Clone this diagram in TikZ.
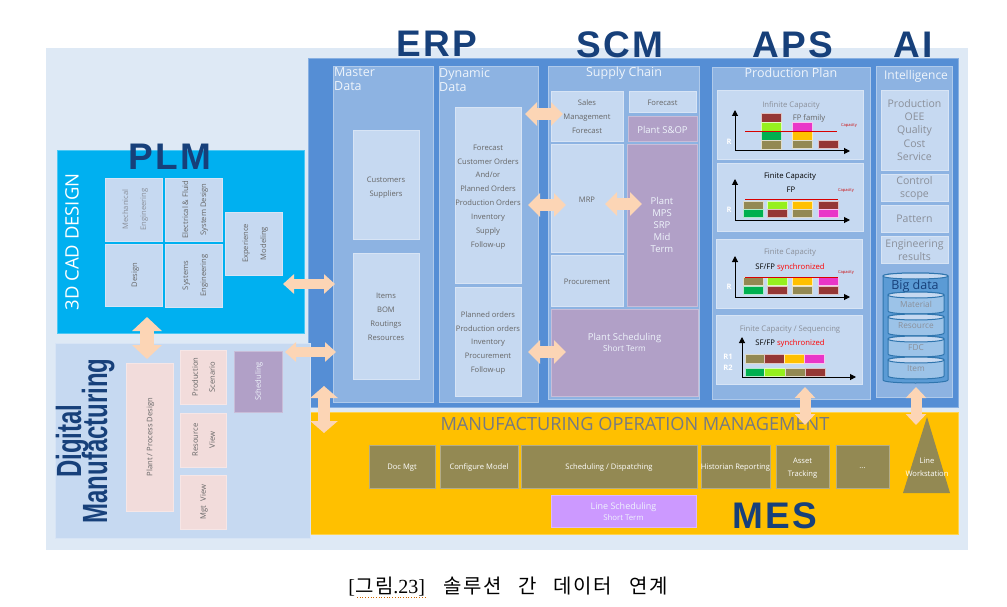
\documentclass[tikz,border=0pt]{standalone}
\usepackage{fontspec}
\usepackage{graphicx}
\usetikzlibrary{arrows.meta}
\setmainfont{Open Sans}
\newfontfamily\headfont[LetterSpace=7]{Liberation Sans}
\newfontfamily\dmfont{Liberation Sans}
\newfontfamily\krfont[LetterSpace=8]{Noto Sans CJK KR}
\newfontfamily\capserif{Liberation Serif}
\definecolor{bgpale}{HTML}{DEE9F5}
\definecolor{panelblue}{HTML}{558ED5}
\definecolor{midblue}{HTML}{8DB3E2}
\definecolor{paleblue}{HTML}{C6D9F1}
\definecolor{cyanblue}{HTML}{00B0F0}
\definecolor{purplebox}{HTML}{B1A0C7}
\definecolor{pinkbox}{HTML}{F2DCDB}
\definecolor{mesyellow}{HTML}{FFC000}
\definecolor{olivebox}{HTML}{938953}
\definecolor{lilac}{HTML}{CC99FF}
\definecolor{peach}{HTML}{FCD5B5}
\definecolor{headblue}{HTML}{17407A}
\definecolor{darkred}{HTML}{953735}
\definecolor{limeg}{HTML}{96F01E}
\definecolor{greenb}{HTML}{00B050}
\definecolor{magentab}{HTML}{E936C8}
\definecolor{greytext}{HTML}{666666}
\definecolor{softgrey}{HTML}{8A8F99}
\definecolor{whitetext}{HTML}{EEF4FB}
\definecolor{drumedge}{HTML}{2F75AE}
\definecolor{drumfill}{HTML}{5B9BD5}
\definecolor{drumin}{HTML}{9CC3E8}
\def\tsh{0}
\tikzset{
  ts/.code={\gdef\tsh{#1}},
  box/.style={draw=#1!70!white,fill=#1,line width=.5pt,inner sep=0pt,outer sep=0pt,align=center},
  box/.default=paleblue,
  listtext/.style={text=greytext,font=\fontsize{7.6}{13.9}\selectfont},
  whtext/.style={text=whitetext},
  panelhead/.style={text=whitetext,inner sep=0pt,align=left,font=\fontsize{12.5}{14}\selectfont},
  headline/.style={text=headblue,inner sep=0pt,font=\headfont\bfseries\fontsize{37}{37}\selectfont},
  introw/.style={text=softgrey,font=\fontsize{10.5}{13.3}\selectfont},
  fat/.style n args={3}{draw=peach,line width=#1pt,arrows={Triangle[length=#2pt,width=#3pt]-Triangle[length=#2pt,width=#3pt]}},
  axisline/.style={draw=black,line width=1pt,arrows={Triangle[length=6pt,width=6pt]-Triangle[length=6pt,width=6pt]}},
  chtitle/.style={inner sep=0pt,font=\fontsize{7.7}{9}\selectfont},
  captext/.style={text=red!80!black,inner sep=0pt,font=\fontsize{4}{5}\selectfont},
  rlabel/.style={text=white,inner sep=0pt,font=\bfseries\fontsize{7.5}{9}\selectfont},
  caplimit/.style={draw=red!85!black,line width=.8pt},
  dmtext/.style={inner sep=0pt,rotate=90,anchor=base,text=headblue,font=\dmfont\bfseries\fontsize{35}{35}\selectfont},
}
% panel without text
\newcommand{\pn}[6][]{%
  \pgfmathsetmacro\cxx{(#3+#5)/2}\pgfmathsetmacro\cyy{(#4+#6)/2}%
  \pgfmathsetmacro\wwd{#5-#3}\pgfmathsetmacro\hhd{#6-#4}%
  \node[box,#1,minimum width=\wwd pt,minimum height=\hhd pt] (#2) at (\cxx,\cyy) {};}
% box with its text, which may sit ts=... below the centre
\newcommand{\bx}[7][]{%
  \pn[#1]{#2}{#3}{#4}{#5}{#6}%
  \pgfmathsetmacro\cyt{\cyy+\tsh}%
  \node[box,#1,draw=none,fill=none] (#2t) at (\cxx,\cyt) {#7};%
  \gdef\tsh{0}}
\newcommand{\rot}[2][18]{\rotatebox{90}{\fontsize{7.6}{#1}\selectfont\begin{tabular}{@{}c@{}}#2\end{tabular}}}
\newcommand{\chbar}[5]{\fill[#1,draw=white!70!#1,line width=.3pt] (#2,#3) rectangle (#4,#5);}
\newcommand{\chaxes}[5]{%
  \coordinate (#1top) at (#2,#3);\coordinate (#1org) at (#2,#4);\coordinate (#1end) at (#5,#4);
  \draw[axisline] (#1top) -- (#1org) -- (#1end);}
\newcommand{\drum}[8]{% name x1 y1 x2 y2 edge fill text
  \pgfmathsetmacro\cxx{(#2+#4)/2}%
  \pgfmathsetmacro\ytop{#3+3}\pgfmathsetmacro\ybot{#5-3}\pgfmathsetmacro\cyy{(#3+#5)/2+1}%
  \draw[draw=#6,fill=#7,line width=1pt] (#2,\ytop) -- (#2,\ybot) .. controls (#2,#5+1) and (#4,#5+1) .. (#4,\ybot) -- (#4,\ytop) .. controls (#4,#3-1) and (#2,#3-1) .. (#2,\ytop) -- cycle;
  \draw[draw=#6,line width=1pt,fill=paleblue] (#2,\ytop) .. controls (#2,#3-1) and (#4,#3-1) .. (#4,\ytop) .. controls (#4,#3+7) and (#2,#3+7) .. (#2,\ytop) -- cycle;
  \node[introw,inner sep=0pt,font=\fontsize{8.3}{10}\selectfont] (#1) at (\cxx,\cyy) {#8};}
\begin{document}
\begin{tikzpicture}[x=1pt,y=-1pt]
\useasboundingbox (0,0) rectangle (1007,607);
\fill[bgpale] (46,48) rectangle (968,550);

% main panels
\pn[box=panelblue]{erpscm}{308}{58}{958}{407}
\pn[box=midblue]{master}{333}{66}{433}{402}
\pn[box=midblue]{dynamic}{439}{66}{538}{402}
\pn[box=midblue]{supply}{548}{66}{699}{399}
\pn[box=midblue]{prodplan}{712}{67}{870}{399}
\pn[box=midblue]{intel}{876}{66}{952}{397}

\node[panelhead,anchor=north west] (masterh) at (334,67) {Master\\Data};
\node[panelhead,anchor=north west] (dynh) at (439,68) {Dynamic\\Data};
\node[panelhead] (supplyh) at (624,73) {Supply Chain};
\node[panelhead] (planh) at (791,73) {Production Plan};
\node[panelhead,font=\fontsize{12}{14}\selectfont] (intelh) at (916,76) {Intelligence};

% ERP boxes
\bx[listtext,ts=3]{customers}{353}{130}{419}{239}{Customers\\Suppliers}
\bx[listtext,ts=1]{items}{353}{253}{419}{379}{Items\\BOM\\Routings\\Resources}
\bx[listtext,ts=2]{dynone}{455}{107}{521}{283}{Forecast\\Customer Orders\\And/or\\Planned Orders\\Production Orders\\Inventory\\Supply\\Follow-up}
\bx[listtext,ts=1.5]{dyntwo}{455}{287}{521}{396}{Planned orders\\Production orders\\Inventory\\Procurement\\Follow-up}

% SCM boxes
\bx[listtext,ts=1]{sales}{551}{91}{623}{141}{Sales\\Management\\Forecast}
\bx[listtext,ts=1]{forecast}{629}{91}{696}{112}{Forecast}
\bx[box=purplebox,whtext,ts=1,font=\fontsize{9.5}{12}\selectfont]{sop}{628}{116}{697}{141}{Plant S\&OP}
\bx[listtext,ts=2]{mrp}{551}{144}{623}{252}{MRP}
\bx[box=purplebox,whtext,font=\fontsize{9.5}{12.2}\selectfont]{mps}{627}{144}{697}{306}{Plant\\MPS\\SRP\\Mid\\Term}
\bx[listtext,ts=1]{procure}{551}{255}{623}{306}{Procurement}
\bx[box=purplebox,whtext,ts=-10,font=\fontsize{9.5}{11}\selectfont]{plantsched}{551}{309}{698}{396}{Plant Scheduling\\{\fontsize{8.3}{11}\selectfont Short Term}}

% Intelligence
\bx[introw]{kpi}{881}{90}{948}{170}{Production\\OEE\\Quality\\Cost\\Service}
\bx[introw,ts=.5]{control}{881}{174}{948}{201}{Control\\scope}
\bx[introw,ts=.5]{pattern}{881}{205}{948}{232}{Pattern}
\bx[introw,ts=.5]{engres}{881}{236}{948}{263}{Engineering\\results}
\drum{bigdrum}{883}{273}{948}{383}{drumedge}{drumfill}{}
\node[inner sep=0pt,text=headblue,font=\fontsize{12.5}{14}\selectfont] (bigdata) at (915,286) {Big data};
\drum{material}{888}{292}{944}{314}{drumedge}{drumin}{Material}
\drum{resource}{888}{314}{944}{336}{drumedge}{drumin}{Resource}
\drum{fdc}{888}{336}{944}{357}{drumedge}{drumin}{FDC}
\drum{itemdrum}{888}{357}{944}{379}{drumedge}{drumin}{Item}

% Chart panels
\pn{chartone}{717}{90}{863}{159}
\pn{charttwo}{717}{163}{863}{231}
\pn{chartthree}{716}{239}{862}{308}
\pn{chartfour}{716}{315}{862}{384}

% chart 1
\node[chtitle,text=softgrey] (t1) at (791,105) {Infinite Capacity};
\chbar{darkred}{761}{113}{781}{122}\chbar{limeg}{761}{122}{781}{131}\chbar{greenb}{761}{131}{781}{140}\chbar{olivebox}{761}{140}{781}{149}
\chbar{magentab}{792}{122}{812}{131}\chbar{mesyellow}{792}{131}{812}{140}\chbar{olivebox}{792}{140}{812}{148}
\chbar{darkred}{818}{140}{838}{148}
\node[chtitle,text=greytext] (f1) at (809,118) {FP family};
\coordinate (c1a) at (745,131);\coordinate (c1b) at (837,131);\draw[caplimit] (c1a) -- (c1b);
\node[captext] (cap1) at (849,126) {Capacity};
\node[rlabel] (r1) at (729,142) {R};
\chaxes{a}{735}{110}{151}{850}

% chart 2
\node[chtitle,text=black] (t2) at (790,177) {Finite Capacity};
\node[chtitle,text=black] (f2) at (791,190) {FP};
\chbar{olivebox}{743}{201}{763}{209}\chbar{greenb}{743}{209}{763}{217}
\chbar{limeg}{767}{201}{787}{209}\chbar{darkred}{767}{209}{787}{217}
\chbar{mesyellow}{792}{201}{812}{209}\chbar{olivebox}{792}{209}{812}{217}
\chbar{darkred}{818}{201}{838}{209}\chbar{magentab}{818}{209}{838}{217}
\coordinate (c2a) at (745,199);\coordinate (c2b) at (838,199);\draw[caplimit] (c2a) -- (c2b);
\node[captext] (cap2) at (846,191) {Capacity};
\node[rlabel] (r2) at (729,210) {R};
\chaxes{b}{735}{179}{220}{850}

% chart 3
\node[chtitle,text=softgrey] (t3) at (790,253) {Finite Capacity};
\node[chtitle] (f3) at (790,267) {SF/FP \textcolor{red}{synchronized}};
\chbar{olivebox}{743}{277}{763}{285}\chbar{greenb}{743}{286}{763}{294}
\chbar{limeg}{767}{277}{787}{285}\chbar{darkred}{767}{286}{787}{294}
\chbar{mesyellow}{792}{277}{812}{285}\chbar{olivebox}{792}{286}{812}{294}
\chbar{magentab}{818}{277}{838}{285}\chbar{darkred}{818}{286}{838}{294}
\coordinate (c3a) at (745,277);\coordinate (c3b) at (838,277);\draw[caplimit] (c3a) -- (c3b);
\node[captext] (cap3) at (846,273) {Capacity};
\node[rlabel] (r3) at (729,287) {R};
\chaxes{c}{735}{256}{297}{850}

% chart 4
\node[chtitle,text=softgrey] (t4) at (790,330) {Finite Capacity / Sequencing};
\node[chtitle] (f4) at (790,343) {SF/FP \textcolor{red}{synchronized}};
\chbar{olivebox}{745}{354}{764}{363}\chbar{darkred}{764}{354}{784}{363}\chbar{mesyellow}{784}{354}{804}{363}\chbar{magentab}{804}{354}{824}{363}
\chbar{greenb}{745}{368}{764}{376}\chbar{limeg}{764}{368}{785}{376}\chbar{olivebox}{785}{368}{805}{376}\chbar{darkred}{805}{368}{825}{376}
\node[rlabel] (r4a) at (728,357) {R1};
\node[rlabel] (r4b) at (728,368) {R2};
\chaxes{d}{742}{337}{377}{856}

% MES
\pn[box=mesyellow]{mespanel}{309}{412}{958}{534}
\node[inner sep=0pt,text=softgrey!85!black,font=\fontsize{18.2}{20}\selectfont] (moptitle) at (635,424) {MANUFACTURING OPERATION MANAGEMENT};
\tikzset{mesbox/.style={box=olivebox,ts=1.5,text=white,font=\fontsize{7.6}{13.5}\selectfont}}
\bx[mesbox]{docmgt}{369}{445}{435}{488}{Doc Mgt}
\bx[mesbox]{configm}{440}{445}{518}{488}{Configure Model}
\bx[mesbox]{dispatch}{521}{445}{697}{488}{Scheduling / Dispatching}
\bx[mesbox]{histo}{701}{445}{770}{488}{Historian Reporting}
\bx[mesbox]{asset}{776}{445}{829}{488}{Asset\\Tracking}
\bx[mesbox]{dots}{836}{445}{889}{488}{...}
\bx[box=lilac,whtext,ts=1,font=\fontsize{9}{11}\selectfont]{linesched}{551}{495}{696}{527}{Line Scheduling\\{\fontsize{7.8}{11}\selectfont Short Term}}
\coordinate (tria) at (927,417);\coordinate (trib) at (950,493);\coordinate (tric) at (903,493);
\fill[olivebox] (tria) -- (trib) -- (tric) -- cycle;
\node[inner sep=0pt,align=center,text=white,font=\fontsize{7.6}{13.5}\selectfont] (linews) at (927,467) {Line\\Workstation};

% PLM
\pn[box=cyanblue]{cad}{57}{150}{304}{333}
\node[inner sep=0pt,rotate=90,text=white,font=\fontsize{18.5}{20}\selectfont] (cadt) at (72,242) {3D CAD DESIGN};
\bx[text=softgrey]{mech}{105}{178}{162}{241}{\rot{Mechanical\\Engineering}}
\bx[text=greytext]{elec}{165}{178}{222}{241}{\rot{Electrical \& Fluid\\System Design}}
\bx[text=greytext]{design}{105}{244}{162}{306}{\rot{Design}}
\bx[text=greytext]{systems}{165}{244}{222}{307}{\rot{Systems\\Engineering}}
\bx[text=greytext]{exper}{225}{212}{282}{275}{\rot{Experience\\Modeling}}

% Digital Manufacturing
\pn[box=paleblue]{dm}{55}{343}{310}{538}
\node[dmtext] (dmone) at (81,441) {\scalebox{.685}[1]{Digital}};
\node[dmtext] (dmtwo) at (107,441) {\scalebox{.685}[1]{Manufacturing}};
\bx[box=pinkbox,text=greytext]{plantd}{126}{363}{173}{511}{\rot[14]{Plant / Process Design}}
\bx[box=pinkbox,text=greytext]{scenario}{180}{350}{226}{404}{\rot[17]{Production\\Scenario}}
\bx[box=pinkbox,text=greytext]{resview}{180}{413}{226}{467}{\rot[17]{Resource\\View}}
\bx[box=pinkbox,text=greytext]{mgtview}{180}{475}{226}{529}{\rot[14]{Mgt\ \ View}}
\bx[box=purplebox,text=whitetext]{schedb}{234}{351}{282}{412}{\rot[14]{Scheduling}}

% Headings
\node[headline] (plmh) at (170,157) {PLM};
\node[headline] (erph) at (437,44) {ERP};
\node[headline] (scmh) at (620,45) {SCM};
\node[headline] (apsh) at (793,45) {APS};
\node[headline] (aih) at (913,45) {AI};
\node[headline] (mesh) at (775,516) {MES};

% Connectors
\coordinate (v1a) at (147,317);\coordinate (v1b) at (147,359);
\coordinate (h1a) at (283,284);\coordinate (h1b) at (335,284);
\coordinate (h2a) at (285,352);\coordinate (h2b) at (336,352);
\coordinate (v2a) at (324,386);\coordinate (v2b) at (324,433);
\coordinate (h3a) at (525,114);\coordinate (h3b) at (563,114);
\coordinate (h4a) at (528,205);\coordinate (h4b) at (566,205);
\coordinate (h5a) at (605,204);\coordinate (h5b) at (642,204);
\coordinate (h6a) at (528,352);\coordinate (h6b) at (566,352);
\coordinate (v3a) at (805,387);\coordinate (v3b) at (805,425);
\coordinate (v4a) at (916,387);\coordinate (v4b) at (916,425);
\draw[fat={14}{14}{29}] (v1a) -- (v1b);
\draw[fat={10}{11}{19}] (h1a) -- (h1b);
\draw[fat={10}{11}{19}] (h2a) -- (h2b);
\draw[fat={12}{12}{27}] (v2a) -- (v2b);
\draw[fat={12}{12}{23}] (h3a) -- (h3b);
\draw[fat={12}{12}{23}] (h4a) -- (h4b);
\draw[fat={12}{12}{23}] (h5a) -- (h5b);
\draw[fat={12}{12}{23}] (h6a) -- (h6b);
\draw[fat={11}{11}{20}] (v3a) -- (v3b);
\draw[fat={11}{11}{20}] (v4a) -- (v4b);

% Caption
\node[inner sep=0pt,text=black,font=\fontsize{20}{22}\selectfont] (caption) at (508,587) {{\capserif[}{\krfont 그림}{\capserif .23]}\hspace*{18pt}{\krfont 솔루션}\hspace*{17pt}{\krfont 간}\hspace*{17pt}{\krfont 데이터}\hspace*{17pt}{\krfont 연계}};
\coordinate (sqa) at (357,597.5);\coordinate (sqb) at (426,597.5);
\draw[draw=orange!80!black,line width=.7pt,dotted] (sqa) -- (sqb);
\end{tikzpicture}
\end{document}
